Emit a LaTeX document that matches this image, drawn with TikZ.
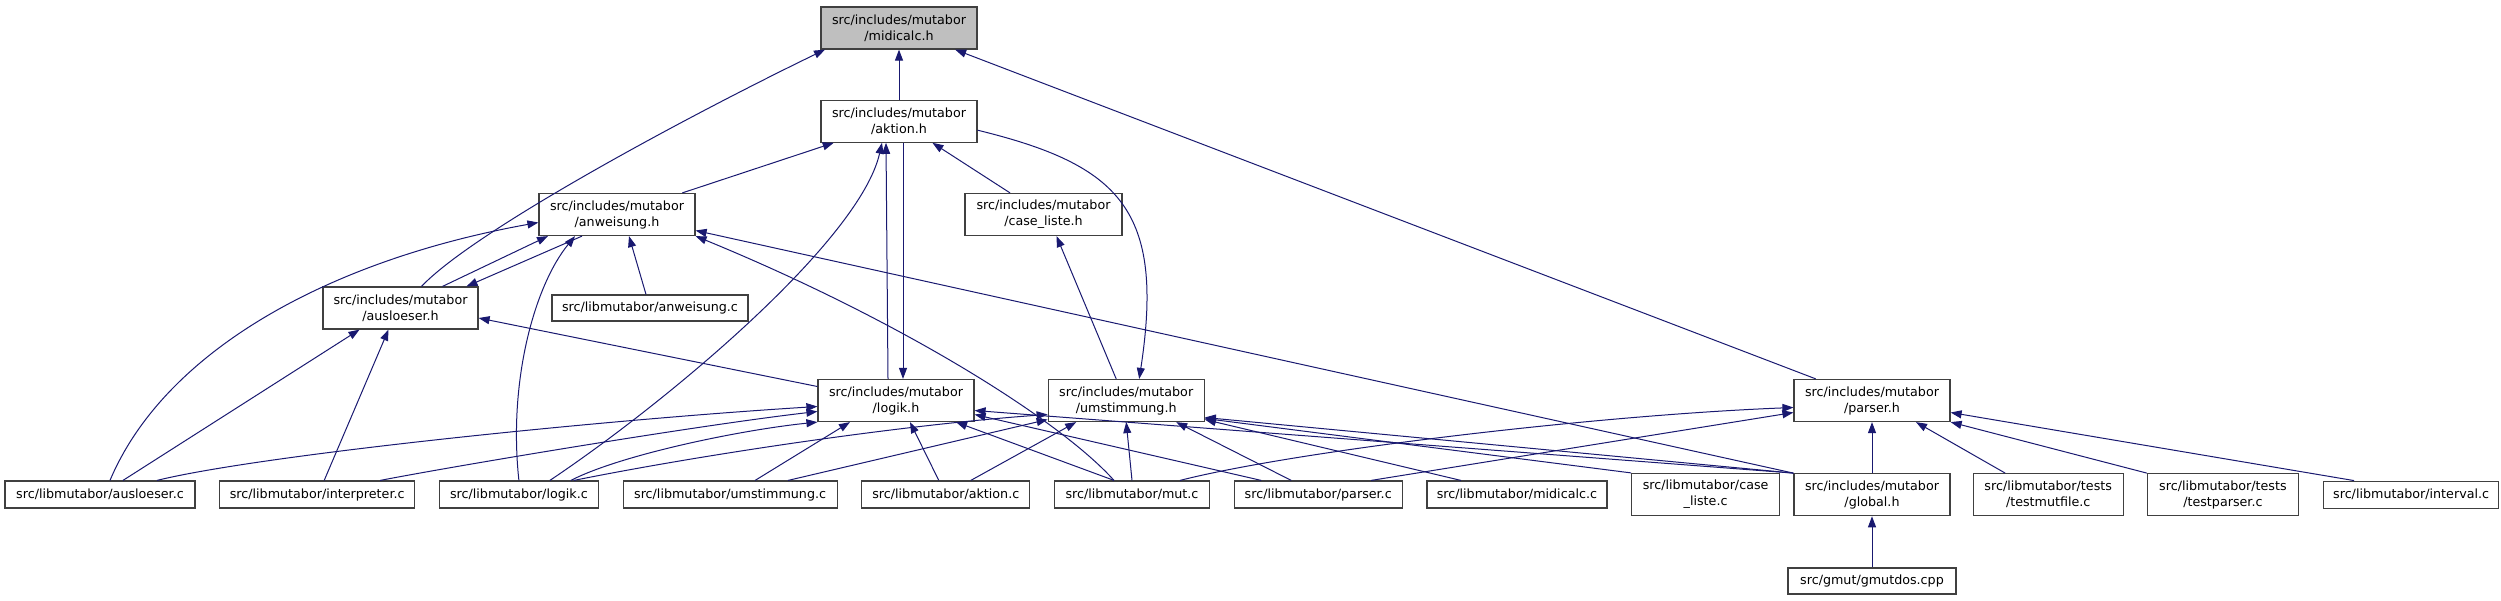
\documentclass[tikz,border=0pt]{standalone}
\usepackage{fontspec}
\setmainfont{DejaVu Sans}
\usetikzlibrary{arrows.meta,positioning}
\definecolor{edgeblue}{RGB}{25,25,112}
\definecolor{boxgray}{RGB}{191,191,191}
\definecolor{framegray}{RGB}{64,64,64}

\begin{document}
\begin{tikzpicture}[x=1pt,y=-1pt,
  box/.style={rectangle,draw=framegray,line width=1.2pt,fill=white,
    minimum width=156pt,minimum height=42pt,inner sep=3pt,align=center,
    font=\fontsize{12.7}{16}\selectfont},
  flatbox/.style={box,minimum height=27pt},
  dep/.style={-{Triangle[length=11pt,width=8pt]},draw=edgeblue,line width=1pt}
]
  \useasboundingbox (0,0) rectangle (2501,600);

  \node[box,fill=boxgray] (midicalc) at (899,28) {src/includes/mutabor\\/midicalc.h};
  \node[box,below=50pt of midicalc] (aktion) {src/includes/mutabor\\/aktion.h};
  \node[box] (anweisung) at (617,214.5) {src/includes/mutabor\\/anweisung.h};
  \node[box,minimum width=157pt] (casel) at (1043.5,214.5) {src/includes/mutabor\\/case\_liste.h};
  \node[box,minimum width=155pt] (ausloeser) at (400.5,308) {src/includes/mutabor\\/ausloeser.h};
  \node[flatbox,minimum width=196pt,minimum height=26pt] (anweisungc) at (650,308) {src/libmutabor/anweisung.c};
  \node[box] (logik) at (896,400.5) {src/includes/mutabor\\/logik.h};
  \node[box,right=73pt of logik] (umstimmung) {src/includes/mutabor\\/umstimmung.h};
  \node[box] (parser) at (1872,400.5) {src/includes/mutabor\\/parser.h};
  \node[box,below=51pt of parser] (globalh) {src/includes/mutabor\\/global.h};

  \node[flatbox,minimum width=190pt] (ausloeserc) at (100,494.5) {src/libmutabor/ausloeser.c};
  \node[flatbox,minimum width=195pt,right=23.5pt of ausloeserc] (interpreterc) {src/libmutabor/interpreter.c};
  \node[flatbox,minimum width=159pt,right=23.5pt of interpreterc] (logikc) {src/libmutabor/logik.c};
  \node[flatbox,minimum width=214pt,right=23.5pt of logikc] (umstimmungc) {src/libmutabor/umstimmung.c};
  \node[flatbox,minimum width=168pt,right=23.5pt of umstimmungc] (aktionc) {src/libmutabor/aktion.c};
  \node[flatbox,minimum width=155pt,right=23.5pt of aktionc] (mutc) {src/libmutabor/mut.c};
  \node[flatbox,minimum width=168pt,right=23.5pt of mutc] (parserc) {src/libmutabor/parser.c};
  \node[flatbox,minimum width=180pt,right=23.5pt of parserc] (midicalcc) {src/libmutabor/midicalc.c};
  \node[box,minimum width=148pt,right=23.5pt of midicalcc] (casec) {src/libmutabor/case\\\_liste.c};
  \node[box,minimum width=150pt,right=22pt of globalh] (testmutfile) {src/libmutabor/tests\\/testmutfile.c};
  \node[box,minimum width=151pt,right=23pt of testmutfile] (testparser) {src/libmutabor/tests\\/testparser.c};
  \node[flatbox,minimum width=175pt,right=24pt of testparser] (intervalc) {src/libmutabor/interval.c};
  \node[flatbox,minimum width=168pt,minimum height=26pt,below=51pt of globalh] (gmutdos) {src/gmut/gmutdos.cpp};

  \draw[dep] (aktion) -- (midicalc);
  \draw[dep] ([xshift=21pt]ausloeser.north) .. controls (475,230) and (690,115) .. ([xshift=-74pt]midicalc.south);
  \draw[dep] (parser) -- (midicalc);
  \draw[dep] (anweisung) -- (aktion);
  \draw[dep] (casel) -- (aktion);
  \draw[dep] ([xshift=-8pt]logik.north) -- ([xshift=-13pt]aktion.south);
  \draw[dep] ([xshift=4pt]aktion.south) -- ([xshift=7pt]logik.north);
  \draw[dep] ([xshift=31pt]logikc.north) .. controls (670,400) and (860,240) .. ([xshift=-17pt]aktion.south);
  \draw[dep] ([yshift=-9pt]aktion.east) .. controls (1120,165) and (1165,210) .. ([xshift=13pt]umstimmung.north);

  \draw[dep] ([xshift=42pt]ausloeser.north) -- ([xshift=-69pt]anweisung.south);
  \draw[dep] ([xshift=-35pt]anweisung.south) -- ([xshift=66pt]ausloeser.north);
  \draw[dep] ([xshift=10pt]ausloeserc.north) .. controls (165,350) and (330,260) .. ([yshift=-8pt]anweisung.west);
  \draw[dep] (logikc.north) .. controls (508,380) and (535,285) .. ([xshift=-42pt]anweisung.south);
  \draw[dep] ([xshift=-4pt]anweisungc.north) -- ([xshift=12pt]anweisung.south);
  \draw[dep] ([xshift=-18pt]mutc.north) .. controls (1060,420) and (900,320) .. (anweisung.south east);
  \draw[dep] (globalh.north west) -- ([yshift=-16pt]anweisung.east);

  \draw[dep] ([xshift=23pt]ausloeserc.north) -- ([xshift=-41pt]ausloeser.south);
  \draw[dep] ([xshift=7pt]interpreterc.north) -- ([xshift=-12pt]ausloeser.south);
  \draw[dep] ([yshift=14pt]logik.west) -- ([yshift=-10pt]ausloeser.east);
  \draw[dep] ([xshift=-10pt]umstimmung.north) -- ([xshift=13pt]casel.south);

  \draw[dep] ([xshift=57pt]ausloeserc.north) .. controls (260,455) and (600,420) .. ([yshift=-6pt]logik.west);
  \draw[dep] ([xshift=63pt]interpreterc.north) .. controls (460,465) and (700,425) .. ([yshift=-11pt]logik.west);
  \draw[dep] ([xshift=52pt]logikc.north) .. controls (620,455) and (740,430) .. (logik.south west);
  \draw[dep] ([xshift=25pt]umstimmungc.north) -- ([xshift=-46pt]logik.south);
  \draw[dep] ([xshift=-7pt]aktionc.north) -- ([xshift=14pt]logik.south);
  \draw[dep] ([xshift=-18pt]mutc.north) -- ([xshift=60pt]logik.south);
  \draw[dep] ([xshift=-57pt]parserc.north) -- ([yshift=-14pt]logik.east);
  \draw[dep] (globalh.north west) -- ([yshift=-10pt]logik.east);

  \draw[dep] ([xshift=55pt]logikc.north) .. controls (700,455) and (900,425) .. ([yshift=-14pt]umstimmung.west);
  \draw[dep] ([xshift=58pt]umstimmungc.north) -- ([yshift=-19pt]umstimmung.west);
  \draw[dep] ([xshift=25pt]aktionc.north) -- ([xshift=-50pt]umstimmung.south);
  \draw[dep] (mutc.north) -- (umstimmung.south);
  \draw[dep] ([xshift=-27pt]parserc.north) -- ([xshift=50pt]umstimmung.south);
  \draw[dep] ([xshift=-56pt]midicalcc.north) -- ([yshift=-19pt]umstimmung.east);
  \draw[dep] (casec.north west) -- ([yshift=-18pt]umstimmung.east);
  \draw[dep] (globalh.north west) -- ([yshift=-17pt]umstimmung.east);

  \draw[dep] ([xshift=48pt]mutc.north) .. controls (1300,450) and (1600,415) .. ([yshift=-7pt]parser.west);
  \draw[dep] ([xshift=53pt]parserc.north) -- ([yshift=-12pt]parser.west);
  \draw[dep] (globalh) -- (parser);
  \draw[dep] ([xshift=-43pt]testmutfile.north) -- ([xshift=44pt]parser.south);
  \draw[dep] (testparser.north west) -- (parser.south east);
  \draw[dep] ([xshift=-57pt]intervalc.north) -- ([yshift=-12pt]parser.east);
  \draw[dep] (gmutdos) -- (globalh);
\end{tikzpicture}
\end{document}
